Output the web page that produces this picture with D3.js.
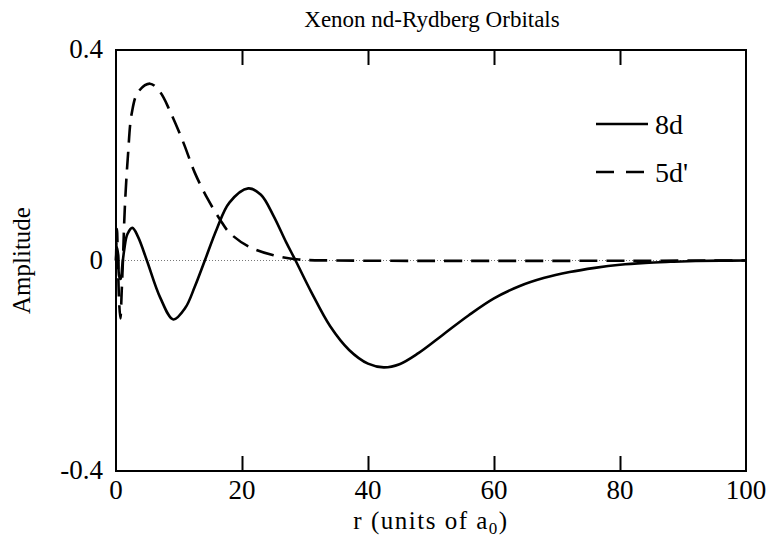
<html>
<head>
<script src="https://cdn.jsdelivr.net/npm/d3@7"></script>
<style>
  body { margin: 0; background: #fff; }
  svg text { font-family: 'Liberation Serif', serif; fill: #000; }
</style>
</head>
<body>
<script>
    // 8d orbital (solid) and 5d' (dashed)
    const r8d = [0, 0.15, 0.35, 0.5, 0.75, 1.0, 1.3, 1.8, 2.6, 3.5, 4.9, 7, 9.1, 11, 12.5, 14.1, 16, 18, 21, 23, 25, 27, 28.5, 31, 34, 37, 40, 42.5, 45, 48, 52, 56, 60, 64, 68, 72, 76, 80, 84, 88, 92, 96, 100]
    const amp8d = [0, 0.025, 0.01, -0.03, -0.035, -0.01, 0.02, 0.05, 0.062, 0.045, 0, -0.07, -0.112, -0.09, -0.05, 0, 0.06, 0.11, 0.137, 0.125, 0.085, 0.035, 0, -0.06, -0.125, -0.17, -0.196, -0.203, -0.197, -0.176, -0.14, -0.104, -0.072, -0.049, -0.033, -0.022, -0.014, -0.008, -0.0045, -0.0025, -0.001, -0.0003, 0]

    const r5d = [0, 0.15, 0.3, 0.5, 0.7, 0.9, 1.1, 1.4, 1.9, 2.5, 3.5, 5.4, 7, 8.6, 10.7, 12.5, 14.6, 16.5, 18, 21, 25, 29, 35, 100]
    const amp5d = [0, 0.06, 0.0, -0.08, -0.11, -0.06, 0.0, 0.1, 0.2, 0.28, 0.32, 0.336, 0.32, 0.283, 0.224, 0.167, 0.116, 0.078, 0.053, 0.027, 0.01, 0.002, 0, 0]

    const xTicks = [0, 20, 40, 60, 80, 100]
    const yTicks = [-0.4, 0, 0.4]
    const legendNames = ["8d", "5d'"]

    const W = 770, H = 540
    const m = {left: 116, right: 24, top: 50, bottom: 69}
    const serif = "'Liberation Serif', serif"

    const svg = d3.select('body').append('svg')
        .attr('width', W).attr('height', H)

    const x = d3.scaleLinear().domain([0, 100]).range([m.left, W - m.right])
    const y = d3.scaleLinear().domain([-0.4, 0.4]).range([H - m.bottom, m.top])

    // zero line (dotted)
    svg.append('line')
        .attr('x1', x(0)).attr('x2', x(100))
        .attr('y1', y(0)).attr('y2', y(0))
        .attr('stroke', '#555').attr('stroke-width', 0.8)
        .attr('stroke-dasharray', '1,2')

    const lineFn = d3.line()
        .x(d => x(d[0]))
        .y(d => y(d[1]))
        .curve(d3.curveCatmullRom.alpha(0.5))

    svg.append('path')
        .datum(r5d.map((r, i) => [r, amp5d[i]]))
        .attr('d', lineFn)
        .attr('fill', 'none').attr('stroke', '#000')
        .attr('stroke-width', 2.6)
        .attr('stroke-dasharray', '18,9')

    svg.append('path')
        .datum(r8d.map((r, i) => [r, amp8d[i]]))
        .attr('d', lineFn)
        .attr('fill', 'none').attr('stroke', '#000')
        .attr('stroke-width', 2.6)

    // frame
    svg.append('rect')
        .attr('x', x(0)).attr('y', y(0.4))
        .attr('width', x(100) - x(0)).attr('height', y(-0.4) - y(0.4))
        .attr('fill', 'none').attr('stroke', '#000').attr('stroke-width', 2)

    // inward ticks top and bottom
    const inner = xTicks.filter(t => t > 0 && t < 100)
    svg.append('g').call(d3.axisBottom(x).tickValues(inner).tickSize(15).tickFormat(''))
        .attr('transform', `translate(0,${y(0.4)})`)
        .call(g => g.select('.domain').remove())
        .selectAll('line').attr('stroke-width', 2)
    svg.append('g').call(d3.axisTop(x).tickValues(inner).tickSize(15).tickFormat(''))
        .attr('transform', `translate(0,${y(-0.4)})`)
        .call(g => g.select('.domain').remove())
        .selectAll('line').attr('stroke-width', 2)

    // tick labels
    svg.selectAll('.xl').data(xTicks).enter().append('text')
        .attr('x', d => x(d)).attr('y', 499)
        .attr('text-anchor', 'middle')
        .style('font-family', serif)
        .style('font-size', '27px')
        .text(d => d)

    svg.selectAll('.yl').data(yTicks).enter().append('text')
        .attr('x', 103).attr('y', d => y(d) + 8)
        .attr('text-anchor', 'end')
        .style('font-family', serif)
        .style('font-size', '27px')
        .text(d => d === 0 ? '0' : d3.format('.1f')(d).replace('−', '-'))

    // titles
    svg.append('text')
        .attr('x', 432).attr('y', 27)
        .attr('text-anchor', 'middle')
        .style('font-family', serif)
        .style('font-size', '23px')
        .text('Xenon nd-Rydberg Orbitals')

    const xt = svg.append('text')
        .attr('x', 431).attr('y', 529)
        .attr('text-anchor', 'middle')
        .style('font-family', serif)
        .style('font-size', '25px')
        .style('letter-spacing', '1.5px')
    xt.append('tspan').text('r (units of a')
    xt.append('tspan').attr('dy', 5).style('font-size', '17px').text('0')
    xt.append('tspan').attr('dy', -5).text(')')

    svg.append('text')
        .attr('transform', `translate(30,${y(0)}) rotate(-90)`)
        .attr('text-anchor', 'middle')
        .style('font-family', serif)
        .style('font-size', '25px')
        .text('Amplitude')

    // legend
    const leg = svg.selectAll('.leg').data(legendNames).enter().append('g')
        .attr('transform', (d, i) => `translate(596,${124 + i * 48})`)
    leg.append('line')
        .attr('x1', 0).attr('x2', 52).attr('y1', 0).attr('y2', 0)
        .attr('stroke', '#000').attr('stroke-width', 2.4)
        .attr('stroke-dasharray', (d, i) => i ? '18,12' : null)
    leg.append('text')
        .attr('x', 59).attr('y', 10)
        .style('font-family', serif)
        .style('font-size', '28px')
        .text(d => d)
</script>
</body>
</html>
